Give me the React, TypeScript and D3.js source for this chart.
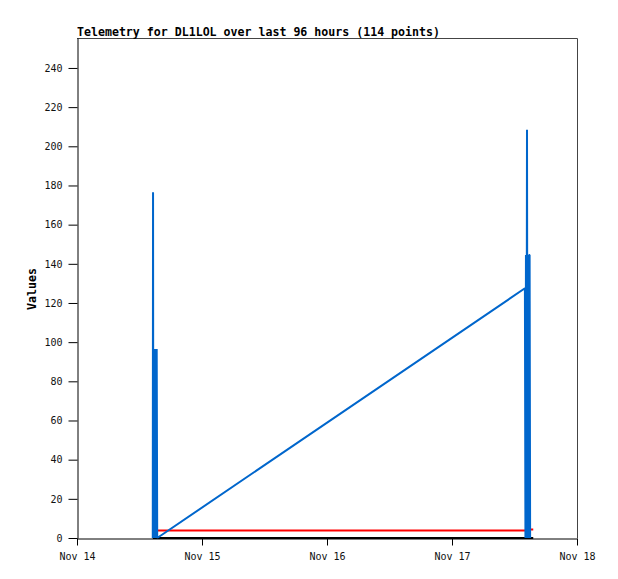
import { useEffect, useRef } from "react";
import * as d3 from "d3";

// hours since Nov 14 00:00 UTC, and the value at that time
const blueHours = [
  14.55, 14.6, 14.65, 14.7, 14.8, 14.9, 15.0, 15.1, 15.2, 15.3, 15.4,
  86.0, 86.1, 86.2, 86.3, 86.4, 86.5, 86.6, 86.7, 86.8, 86.9, 87.0,
];
const blueValues = [
  0, 176.5, 0, 96.5, 0, 96.5, 0, 96.5, 0, 96.5, 0,
  127.5, 0, 144.5, 0, 208.5, 0, 144.5, 0, 144.5, 144.5, 0,
];
const redHours = [15.4, 86.5, 86.7, 87.6];
const redValues = [3.8, 3.8, 4.4, 4.4];
const blackHours = [14.55, 87.6];
const blackValues = [0, 0];

const yTicks = [0, 20, 40, 60, 80, 100, 120, 140, 160, 180, 200, 220, 240];
const xTickDays = ["2023-11-14", "2023-11-15", "2023-11-16", "2023-11-17", "2023-11-18"];

const title = "Telemetry for DL1LOL over last 96 hours (114 points)";
const yLabel = "Values";

const start = Date.UTC(2023, 10, 14);
const toDate = (h: number) => new Date(start + h * 3600 * 1000);

const App = () => {
  const svgRef = useRef<SVGSVGElement>(null);

  useEffect(() => {
    if (!svgRef.current) return;
    const svg = d3.select(svgRef.current);
    svg.selectAll("*").remove();

    const left = 77;
    const right = 577;
    const top = 38;
    const bottom = 538;
    const mono = "'DejaVu Sans Mono', monospace";

    const x = d3
      .scaleUtc()
      .domain([new Date(xTickDays[0] + "T00:00:00Z"), new Date(xTickDays[4] + "T00:00:00Z")])
      .range([left, right]);
    const y = d3.scaleLinear().domain([0, 255.3]).range([bottom, top]);

    // top/right frame
    svg
      .append("path")
      .attr("d", `M${left},${top + 0.5}H${right + 0.5}V${bottom}`)
      .attr("fill", "none")
      .attr("stroke", "#444")
      .attr("stroke-width", 1);

    const line = d3
      .line<[number, number]>()
      .x((d) => x(toDate(d[0])))
      .y((d) => y(d[1]));

    const series = [
      { hours: blackHours, values: blackValues, color: "#000", width: 2 },
      { hours: redHours, values: redValues, color: "#ff0000", width: 2 },
      { hours: blueHours, values: blueValues, color: "#0066cc", width: 2 },
    ];

    series.forEach((s) => {
      const pts = s.hours.map((h, i) => [h, s.values[i]] as [number, number]);
      svg
        .append("path")
        .attr("d", line(pts))
        .attr("fill", "none")
        .attr("stroke", s.color)
        .attr("stroke-width", s.width)
        .attr("stroke-linejoin", "bevel");
    });

    const yAxis = svg
      .append("g")
      .attr("transform", `translate(${left + 0.5},0)`)
      .call(
        d3
          .axisLeft(y)
          .tickValues(yTicks)
          .tickSize(9)
          .tickSizeOuter(0)
          .tickPadding(6)
          .tickFormat((d) => `${d}`)
      );
    yAxis.selectAll("text").attr("font-family", mono).attr("font-size", 10).attr("fill", "#111");

    const xAxis = svg
      .append("g")
      .attr("transform", `translate(0,${bottom + 0.5})`)
      .call(
        d3
          .axisBottom(x)
          .tickValues(xTickDays.map((d) => new Date(d + "T00:00:00Z")))
          .tickSize(7)
          .tickSizeOuter(0)
          .tickPadding(7)
          .tickFormat((d) => d3.utcFormat("%b %d")(d as Date))
      );
    xAxis.selectAll("text").attr("font-family", mono).attr("font-size", 10).attr("fill", "#111");

    svg
      .append("text")
      .attr("x", left)
      .attr("y", 35.5)
      .attr("font-family", mono)
      .attr("font-weight", "bold")
      .attr("font-size", 11.6)
      .text(title);

    svg
      .append("text")
      .attr("transform", `translate(36,289) rotate(-90)`)
      .attr("text-anchor", "middle")
      .attr("font-family", mono)
      .attr("font-weight", "bold")
      .attr("font-size", 11.6)
      .text(yLabel);
  }, []);

  return (
    <svg
      ref={svgRef}
      width={618}
      height={579}
      style={{ position: "absolute", left: 0, top: 0, background: "#fff" }}
    />
  );
};

export default App;
